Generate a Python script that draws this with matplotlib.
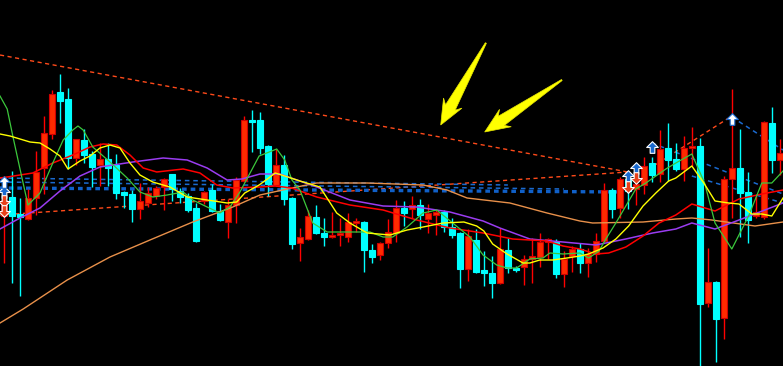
import matplotlib
matplotlib.use('Agg')
import matplotlib.pyplot as plt
from matplotlib.path import Path
from matplotlib.patches import Polygon
import numpy as np

# candle data, one entry per bar
opens = [150, 169, 152, 147, 168, 198, 232, 274, 267, 208,
         226, 212, 201, 207, 201, 174, 172, 157, 163, 170,
         179, 192, 175, 170, 158, 165, 176, 155, 144, 161,
         185, 246, 246, 220, 181, 201, 168, 123, 127, 149,
         133, 129, 131, 129, 143, 144, 116, 111, 123, 133,
         158, 157, 161, 147, 151, 154, 139, 133, 97, 126,
         96, 93, 83, 116, 98, 99, 107, 109, 124, 124,
         92, 110, 117, 103, 112, 125, 176, 158, 187, 177,
         181, 203, 192, 218, 207, 197, 218, 220, 63, 84,
         48, 187, 198, 174, 150, 149, 243, 206]
highs = [190, 195, 168, 177, 215, 250, 276, 292, 278, 227,
         237, 215, 223, 223, 212, 175, 176, 183, 179, 180,
         188, 192, 178, 173, 163, 175, 182, 162, 167, 189,
         250, 256, 254, 221, 217, 211, 169, 138, 156, 161,
         148, 154, 148, 153, 148, 145, 122, 124, 147, 166,
         165, 170, 167, 162, 156, 156, 148, 134, 137, 137,
         115, 110, 138, 128, 100, 111, 128, 133, 128, 127,
         115, 120, 123, 118, 133, 183, 178, 189, 190, 187,
         209, 209, 236, 243, 223, 230, 239, 228, 118, 85,
         190, 277, 237, 194, 170, 245, 259, 227]
lows = [103, 83, 70, 146, 151, 172, 227, 243, 197, 201,
        203, 179, 180, 180, 167, 158, 144, 147, 159, 167,
        156, 165, 163, 154, 124, 162, 154, 145, 128, 143,
        184, 214, 212, 170, 180, 161, 117, 105, 126, 132,
        120, 128, 120, 124, 134, 94, 103, 106, 118, 124,
        140, 148, 137, 133, 131, 134, 128, 78, 85, 93,
        80, 68, 82, 93, 94, 81, 83, 99, 107, 88,
        79, 94, 93, 89, 104, 124, 148, 148, 157, 161,
        172, 184, 184, 185, 195, 185, 200, -10, 59, 4,
        27, 148, 129, 123, 148, 147, 193, 191]
closes = [166, 150, 149, 168, 194, 233, 272, 265, 208, 227,
          211, 199, 207, 198, 173, 171, 157, 165, 173, 178,
          187, 177, 169, 156, 125, 174, 155, 146, 161, 186,
          246, 244, 218, 182, 201, 167, 122, 129, 150, 133,
          129, 131, 133, 144, 145, 116, 109, 123, 134, 158,
          153, 161, 151, 153, 154, 139, 131, 97, 130, 94,
          93, 83, 117, 98, 96, 107, 110, 124, 127, 92,
          107, 117, 103, 112, 125, 176, 157, 187, 175, 182,
          200, 191, 217, 206, 197, 218, 220, 62, 84, 47,
          187, 198, 173, 146, 154, 244, 206, 213]

# moving averages (bar position, price)
yellow_x = [-0.5, 0.75, 2, 3.25, 4.5, 5.75, 7, 8, 9.5, 10.75, 12, 13.25, 14.5, 15.75, 17, 18.6,
            20.75, 22.9, 25.4, 27.9, 29.1, 30.1, 31.9, 33.1, 33.9, 35.1, 37, 39.5, 41.6, 43.25,
            45.4, 48.25, 50.4, 52.4, 54.9, 57.5, 59.1, 60, 61.1, 62.9, 64.9, 65.75, 67, 68.6,
            70.4, 72, 73.1, 74.9, 76.5, 78.1, 79.9, 81.5, 83.1, 84, 86, 87.5, 88.9, 90.6, 91.9,
            93.5, 94.75, 96, 97.4]
yellow_y = [232, 230, 227, 224, 223, 217, 210, 197, 205, 210, 218, 221, 218, 203, 191, 184,
            179, 169, 166, 163, 164, 173, 181, 188, 193, 190, 185, 179, 153, 143,
            133, 131, 136, 139, 143, 144, 140, 135, 122, 112, 103, 103, 106, 106,
            108, 110, 112, 118, 127, 140, 160, 173, 185, 188, 200, 183, 165, 163, 162,
            152, 152, 150, 168]

green_x = [-0.5, 0.4, 1.1, 2, 3, 4.5, 6.1, 7.4, 8.6, 9.25, 9.9, 11.1, 13.25, 15.4, 17, 18.6,
           20.4, 22.4, 23.6, 25.4, 27, 28.25, 29.5, 31.9, 34.1, 35.1, 36, 37, 38.6, 40.4,
           43.25, 45.75, 47.4, 48.6, 50.4, 52.4, 54.1, 56.1, 58.25, 59.9, 61.6, 62.9, 64.1,
           65.75, 67.4, 68.25, 69.9, 72, 73.1, 74.4, 75.25, 76.5, 77.75, 79, 80.25, 81.5,
           82.75, 84, 86, 87.6, 88.9, 91, 93.1, 94.75, 96, 97.4]
green_y = [270, 257, 230, 197, 161, 173, 203, 226, 236, 240, 236, 219, 204, 188, 174, 169,
           171, 174, 166, 159, 153, 159, 174, 210, 217, 206, 186, 176, 143, 134,
           134, 134, 129, 129, 139, 153, 156, 143, 129, 111, 101, 98, 98,
           107, 108, 113, 112, 113, 108, 115, 127, 143, 160, 177, 183, 190,
           197, 203, 212, 183, 143, 117, 150, 183, 183, 195]

red_x = [-0.5, 0.4, 3.6, 6.1, 8.6, 10.75, 12.4, 14.1, 15.75, 17.4, 19.1, 22.4, 24.5, 26.6, 28.6,
         32, 33.9, 36, 39.1, 43.25, 47.4, 51.6, 55.75, 59.9, 63.6, 67.9, 69.9, 72, 74, 75.6,
         77.75, 79.9, 81.9, 84, 86, 88.9, 91.9, 94.75, 97.4]
red_y = [188, 189, 193, 203, 211, 219, 222, 221, 211, 198, 194, 197, 193, 181, 178,
         179, 180, 178, 169, 161, 156, 146, 138, 133, 127, 125, 120, 117, 112, 113,
         119, 130, 143, 151, 162, 155, 167, 172, 176]

purple_x = [-0.5, 2, 4.5, 7, 9.5, 12, 16.1, 19.9, 22.9, 25.4, 27.9, 29.75, 32, 34.5, 39.1, 43.25,
            47.4, 51.6, 55.75, 59.9, 62, 65.75, 69.9, 74, 77.75, 81.1, 84, 86, 88.9, 91.9, 97.4]
purple_y = [137, 148, 158, 175, 190, 199, 204, 208, 206, 198, 186, 187, 192, 192, 179, 166,
            160, 159, 154, 145, 138, 127, 124, 121, 127, 133, 137, 143, 137, 146, 163]

orange_x = [-0.5, 2.4, 7.9, 13.25, 18.25, 23.6, 28.6, 32, 36, 39.1, 45.4, 52.4, 55.4, 57.9,
            63.25, 67.9, 72, 73.6, 79.9, 84, 86, 88.5, 93.9, 97.4]
orange_y = [43, 57, 86, 109, 126, 144, 159, 171, 178, 183, 183, 181, 176, 168,
            163, 153, 145, 143, 144, 147, 148, 146, 140, 144]

# trend lines: (x0, x1), (y0, y1)
red_trend = [((-0.5, 78), (311, 194)),
             ((-0.5, 78), (151, 194)),
             ((81.4, 91), (201, 250))]
blue_trend = [((-0.5, 63), (188, 181)),
              ((-0.5, 70), (184, 177)),
              ((81, 97.4), (223, 172)),
              ((91, 97.4), (249, 216)),
              ((86, 97.4), (190, 163))]
blue_thick = [((-0.5, 77.5), (178, 174))]

# signal arrows
up_white = ([0, 91], [184, 247])
up_blue = ([0, 78, 79, 81], [174, 190, 198, 219])
down_red = ([0, 0, 78, 79], [165, 155, 179, 188])

# yellow pointer arrows: (tail, tip)
pointers = [((60.25, 323), (54.6, 241)),
            ((69.75, 286), (60.1, 234))]


def arrow_marker(up=True):
    verts = [(0, 1), (1, 0), (0.4, 0), (0.4, -1), (-0.4, -1), (-0.4, 0), (-1, 0), (0, 1)]
    if not up:
        verts = [(a, -b) for a, b in verts]
    return Path(verts, [Path.MOVETO] + [Path.LINETO] * 6 + [Path.CLOSEPOLY])


def pointer_polygon(ax, tail, tip, head_len=20, head_half=10.5, shaft_half=5.5, barb_back=5):
    # build the wedge arrow in pixel space, then map back to data space
    t0 = ax.transData.transform(tail)
    t1 = ax.transData.transform(tip)
    d = t1 - t0
    u = d / np.hypot(*d)
    n = np.array([-u[1], u[0]])
    base = t1 - u * head_len
    pts = [t0 + n * 0.6,
           base + n * shaft_half,
           base - u * barb_back + n * head_half,
           t1,
           base - u * barb_back - n * head_half,
           base - n * shaft_half,
           t0 - n * 0.6]
    return ax.transData.inverted().transform(np.array(pts))


def draw_candles(ax):
    x = np.arange(len(opens))
    o = np.array(opens, dtype=float)
    h = np.array(highs, dtype=float)
    l = np.array(lows, dtype=float)
    c = np.array(closes, dtype=float)
    up = c >= o
    for mask, fill, edge, body_edge in [(up, '#ff2a00', '#ff0000', '#d00000'),
                                        (~up, '#00ffff', '#00ffff', '#00ffff')]:
        ax.vlines(x[mask], l[mask], h[mask], color=edge, lw=1.0, zorder=2)
        bottom = np.minimum(o, c)[mask]
        height = np.maximum(np.abs(c - o)[mask], 1.5)
        ax.bar(x[mask], height, bottom=bottom, width=0.78, color=fill,
               edgecolor=body_edge, linewidth=0.8, zorder=3)


fig = plt.figure(figsize=(7.83, 3.66), dpi=100)
fig.patch.set_facecolor('black')
ax = fig.add_axes([0, 0, 1, 1])
ax.set_facecolor('black')
ax.set_xlim(-0.5, 97.4)
ax.set_ylim(0, 366)
ax.axis('off')

for (xs, ys) in red_trend:
    ax.plot(xs, ys, color='#ff4a1a', lw=1.0, ls=(0, (3, 2.5)), zorder=1)
for (xs, ys) in blue_trend:
    ax.plot(xs, ys, color='#1a6ad0', lw=1.1, ls=(0, (3, 2.5)), zorder=1)
for (xs, ys) in blue_thick:
    ax.plot(xs, ys, color='#1060c8', lw=2.4, ls=(0, (1.4, 1.2)), zorder=1)

draw_candles(ax)

ax.plot(orange_x, orange_y, color='#e8904a', lw=1.0, zorder=4)
ax.plot(purple_x, purple_y, color='#9a3cf0', lw=1.1, zorder=4)
ax.plot(red_x, red_y, color='#ff0000', lw=1.1, zorder=4)
ax.plot(green_x, green_y, color='#3cc83c', lw=0.9, zorder=5)
ax.plot(yellow_x, yellow_y, color='#ffff00', lw=1.0, zorder=5)

ax.scatter(*up_blue, marker=arrow_marker(True), s=70, c='#1a6ad0', edgecolors='white', linewidths=0.8, zorder=6)
ax.scatter(*up_white, marker=arrow_marker(True), s=70, c='white', edgecolors='#1a6ad0', linewidths=0.8, zorder=6)
ax.scatter(*down_red, marker=arrow_marker(False), s=70, c='#e8401a', edgecolors='white', linewidths=0.8, zorder=6)

for tail, tip in pointers:
    ax.add_patch(Polygon(pointer_polygon(ax, tail, tip), closed=True,
                         facecolor='#ffff00', edgecolor='#e6e600', lw=0.5, zorder=7))

fig.savefig('out.png', dpi=100, facecolor='black')
